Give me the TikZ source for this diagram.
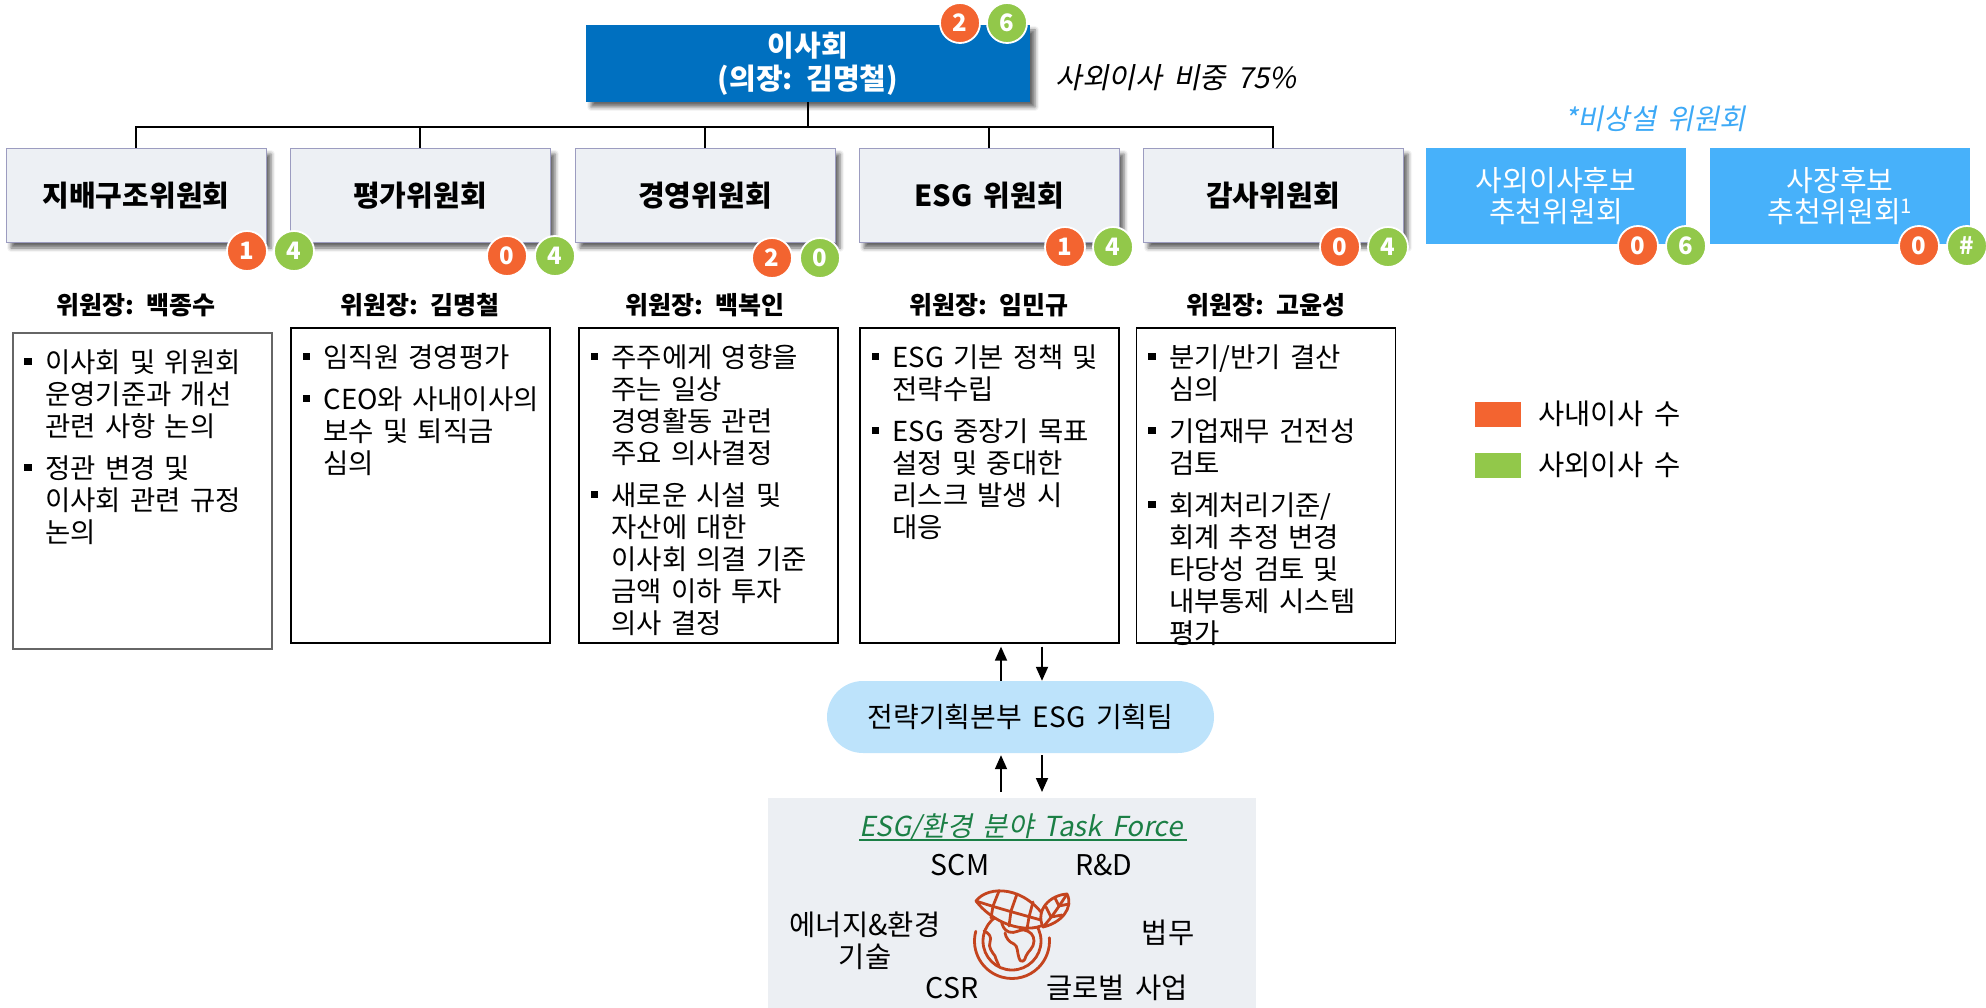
\documentclass[tikz,border=0pt]{standalone}
\usepackage{fontspec}
\setmainfont{Noto Sans CJK KR}[WordSpace=1.7]
\newfontfamily\slantfont{Noto Sans CJK KR}[FakeSlant=0.2,WordSpace=1.7]
\newfontfamily\listfont{Noto Sans CJK KR}[WordSpace=2.1]
\usetikzlibrary{arrows.meta,shadows.blur}

\definecolor{boardblue}{HTML}{0070C0}
\definecolor{adhocblue}{HTML}{47B1FA}
\definecolor{adhoctext}{HTML}{3DA9F6}
\definecolor{cmtfill}{HTML}{EDF0F4}
\definecolor{cmtborder}{HTML}{9C9CC0}
\definecolor{inorange}{HTML}{F36430}
\definecolor{outgreen}{HTML}{92C84A}
\definecolor{pillblue}{HTML}{BDE3FB}
\definecolor{tfgray}{HTML}{ECEFF3}
\definecolor{tfgreen}{HTML}{1B7F45}
\definecolor{iconred}{HTML}{C4441E}

\newcommand{\fsz}[2]{\fontsize{#1}{#2}\selectfont}
% one bullet paragraph with a hanging indent
\newcommand{\bitem}[1]{\noindent\hangindent=21pt\hangafter=1%
  \makebox[21pt][l]{\rule[7pt]{7.5pt}{7.5pt}}#1\par}
\newcommand{\bgap}{\vspace{10pt}}

\begin{document}
\begin{tikzpicture}[x=1pt,y=-1pt,
  softshadow/.style={blur shadow={shadow xshift=5pt,shadow yshift=-5pt,shadow blur radius=4pt,shadow opacity=60}},
  board/.style={fill=boardblue,text=white,minimum width=444pt,minimum height=77pt,
    align=center,font=\fsz{29}{33}\bfseries,softshadow},
  cmt/.style={draw=cmtborder,line width=1pt,fill=cmtfill,minimum width=260pt,minimum height=94pt,
    font=\fsz{29}{32}\bfseries,softshadow},
  adhoc/.style={fill=adhocblue,text=white,minimum width=260pt,minimum height=96pt,
    align=center,font=\fsz{29}{31.5}},
  badge/.style={circle,minimum size=40pt,inner sep=0pt,draw=white,line width=1.8pt,
    text=white,font=\fsz{24}{24}\bfseries},
  inb/.style={badge,fill=inorange},
  outb/.style={badge,fill=outgreen},
  chair/.style={font=\fsz{25}{28}\bfseries},
  listbox/.style={draw=black,line width=1.3pt,minimum width=259pt,minimum height=315pt},
  listtext/.style={anchor=north west,inner sep=0pt,text width=252pt,font=\listfont\fsz{27.5}{32}},
  tree/.style={line width=1.4pt},
  arr/.style={line width=1.8pt,-{Triangle[width=12pt,length=14pt]}},
  pill/.style={fill=pillblue,rounded corners=36pt,minimum width=387pt,minimum height=72pt,
    font=\fsz{28}{30}},
  tfitem/.style={font=\fsz{28.5}{32},align=center},
  legtext/.style={anchor=west,font=\fsz{28.5}{30}},
  iconline/.style={draw=iconred,line width=2.8pt,line cap=round,line join=round}
]
\useasboundingbox (0,0) rectangle (1986,1008);

% ---------- board of directors ----------
\node[board] (board) at (808,63.5) {이사회\\(의장: 김명철)};
\node[inb] (bdin) at (960,23) {2};
\node[outb] (bdout) at (1007,23) {6};
\node[font=\slantfont\fsz{29}{30}] (ratio) at (1176,78) {사외이사 비중 75\%};

% ---------- standing committees ----------
\node[cmt] (c1) at (136,196) {지배구조위원회};
\node[cmt] (c2) at (420,196) {평가위원회};
\node[cmt] (c3) at (705,196) {경영위원회};
\node[cmt] (c4) at (989,196) {ESG 위원회};
\node[cmt] (c5) at (1273,196) {감사위원회};

\coordinate (hub) at (808,127);
\draw[tree] (board.south) -- (hub);
\draw[tree] (hub) -| (c1.north);
\draw[tree] (hub) -| (c2.north);
\draw[tree] (hub) -| (c3.north);
\draw[tree] (hub) -| (c4.north);
\draw[tree] (hub) -| (c5.north);

% ---------- non-standing committees ----------
\node[font=\slantfont\fsz{28.5}{30},text=adhoctext] (adhocttl) at (1655,119) {*비상설 위원회};
\node[adhoc] (a1) at (1556,196) {사외이사후보\\추천위원회};
\node[adhoc] (a2) at (1840,196) {사장후보\\추천위원회\textsuperscript{1}};

% ---------- member counts ----------
\node[inb] (c1in) at (247,251) {1};   \node[outb] (c1out) at (294,251) {4};
\node[inb] (c2in) at (507,256) {0};   \node[outb] (c2out) at (555,256) {4};
\node[inb] (c3in) at (772,258) {2};   \node[outb] (c3out) at (820,258) {0};
\node[inb] (c4in) at (1065,247) {1};  \node[outb] (c4out) at (1113,247) {4};
\node[inb] (c5in) at (1340,247) {0};  \node[outb] (c5out) at (1388,247) {4};
\node[inb] (a1in) at (1638,246) {0};  \node[outb] (a1out) at (1686,246) {6};
\node[inb] (a2in) at (1919,246) {0};  \node[outb] (a2out) at (1967,246) {\#};

% ---------- chairs ----------
\node[chair] (ch1) at (136,305) {위원장: 백종수};
\node[chair] (ch2) at (420,305) {위원장: 김명철};
\node[chair] (ch3) at (705,305) {위원장: 백복인};
\node[chair] (ch4) at (989,305) {위원장: 임민규};
\node[chair] (ch5) at (1266,305) {위원장: 고윤성};

% ---------- duties ----------
\node[listbox,draw=black!60,line width=1.8pt,minimum height=316pt] (tb1) at (142.5,491) {};
\node[listbox] (tb2) at (420.5,485.5) {};
\node[listbox] (tb3) at (708.5,485.5) {};
\node[listbox] (tb4) at (989.5,485.5) {};
\node[listbox] (tb5) at (1266,485.5) {};

\node[listtext] (tl1) at ([xshift=12pt,yshift=-17pt]tb1.north west) {\setlength{\parskip}{0pt}%
  \bitem{이사회 및 위원회\newline 운영기준과 개선\newline 관련 사항 논의}\bgap
  \bitem{정관 변경 및\newline 이사회 관련 규정\newline 논의}};
\node[listtext] (tl2) at ([xshift=12pt,yshift=-17pt]tb2.north west) {\setlength{\parskip}{0pt}%
  \bitem{임직원 경영평가}\bgap
  \bitem{CEO와 사내이사의\newline 보수 및 퇴직금\newline 심의}};
\node[listtext] (tl3) at ([xshift=12pt,yshift=-17pt]tb3.north west) {\setlength{\parskip}{0pt}%
  \bitem{주주에게 영향을\newline 주는 일상\newline 경영활동 관련\newline 주요 의사결정}\bgap
  \bitem{새로운 시설 및\newline 자산에 대한\newline 이사회 의결 기준\newline 금액 이하 투자\newline 의사 결정}};
\node[listtext] (tl4) at ([xshift=12pt,yshift=-17pt]tb4.north west) {\setlength{\parskip}{0pt}%
  \bitem{ESG 기본 정책 및\newline 전략수립}\bgap
  \bitem{ESG 중장기 목표\newline 설정 및 중대한\newline 리스크 발생 시\newline 대응}};
\node[listtext] (tl5) at ([xshift=12pt,yshift=-17pt]tb5.north west) {\setlength{\parskip}{0pt}%
  \bitem{분기/반기 결산\newline 심의}\bgap
  \bitem{기업재무 건전성\newline 검토}\bgap
  \bitem{회계처리기준/\newline 회계 추정 변경\newline 타당성 검토 및\newline 내부통제 시스템\newline 평가}};

% ---------- legend ----------
\node[fill=inorange,minimum width=46pt,minimum height=25pt,inner sep=0pt] (lgin) at (1498,414.5) {};
\node[legtext] (lgintx) at (1535,414) {사내이사 수};
\node[fill=outgreen,minimum width=46pt,minimum height=25pt,inner sep=0pt] (lgout) at (1498,465.5) {};
\node[legtext] (lgouttx) at (1535,465) {사외이사 수};

% ---------- ESG planning team and task force ----------
\node[pill] (team) at (1020.5,717) {전략기획본부 ESG 기획팀};
\node[fill=tfgray,minimum width=488pt,minimum height=240pt,anchor=north west,inner sep=0pt] (tf) at (768,798) {};

\coordinate (upx) at (1001,0);
\coordinate (dnx) at (1042,0);
\draw[arr,shorten >=3pt] (team.north -| upx) -- (tb4.south -| upx);
\draw[arr,shorten <=3pt] (tb4.south -| dnx) -- (team.north -| dnx);
\draw[arr,shorten <=6pt,shorten >=2pt] (tf.north -| upx) -- (team.south -| upx);
\draw[arr,shorten <=2pt,shorten >=6pt] (team.south -| dnx) -- (tf.north -| dnx);

\node[font=\slantfont\fsz{27.5}{32},text=tfgreen,inner sep=0pt] (tfttl) at (1021,828) {ESG/환경 분야 Task Force};
\draw[tfgreen,line width=1.6pt] ([yshift=-3pt]tfttl.base west) -- ([yshift=-3pt,xshift=4pt]tfttl.base east);

\node[tfitem] (scm) at (960,865) {SCM};
\node[tfitem] (rnd) at (1104,865) {R\&D};
\node[tfitem] (energy) at (865,941) {에너지\&환경\\기술};
\node[tfitem] (legal) at (1168,933) {법무};
\node[tfitem] (csr) at (952,988) {CSR};
\node[tfitem] (global) at (1117,988) {글로벌 사업};

% globe with leaves
\begin{scope}[shift={(1012,941)},yscale=-1]
  \draw[iconline] (165:37.5) arc[start angle=165,end angle=365,radius=37.5];
  \draw[iconline] (0,0) circle[radius=29];
  % continents
  \draw[iconline] (-11,22) .. controls (-10,15) and (-8,11) .. (-3,9)
    .. controls (3,7) and (8,12) .. (12,11) .. controls (18,10) and (22,6) .. (22,0)
    .. controls (22,-7) and (16,-10) .. (14,-15) .. controls (13,-20) and (9,-23) .. (7,-17)
    .. controls (5,-11) and (6,-5) .. (2,-3) .. controls (-3,-1) and (-6,3) .. (-7,8);
  \draw[iconline] (-28,10) .. controls (-23,8) and (-20,4) .. (-22,-1)
    .. controls (-24,-6) and (-20,-11) .. (-17,-15) .. controls (-16,-19) and (-14,-22) .. (-13,-25);
  % big leaf
  \draw[iconline,fill=tfgray] (-36,40) .. controls (-24,56) and (14,56) .. (36,19)
    .. controls (20,6) and (-16,14) .. cycle;
  \draw[iconline] (-36,40) .. controls (-12,32) and (15,25) .. (36,19);
  \draw[iconline] (-19,35) -- (-13,50);
  \draw[iconline] (-1,30) -- (5,47);
  \draw[iconline] (17,24) -- (21,39);
  \draw[iconline] (-19,35) -- (-21,23);
  \draw[iconline] (-1,30) -- (-3,15);
  \draw[iconline] (17,24) -- (15,12);
  % small leaf
  \draw[iconline,fill=tfgray] (31,14) .. controls (23,31) and (38,46) .. (55,47)
    .. controls (62,33) and (49,18) .. cycle;
  \draw[iconline] (31,14) .. controls (40,24) and (48,36) .. (55,47);
  \draw[iconline] (39,24) -- (34,34);
  \draw[iconline] (47,35) -- (43,43);
  \draw[iconline] (39,24) -- (50,26);
  \draw[iconline] (47,35) -- (57,37);
\end{scope}
\end{tikzpicture}
\end{document}
